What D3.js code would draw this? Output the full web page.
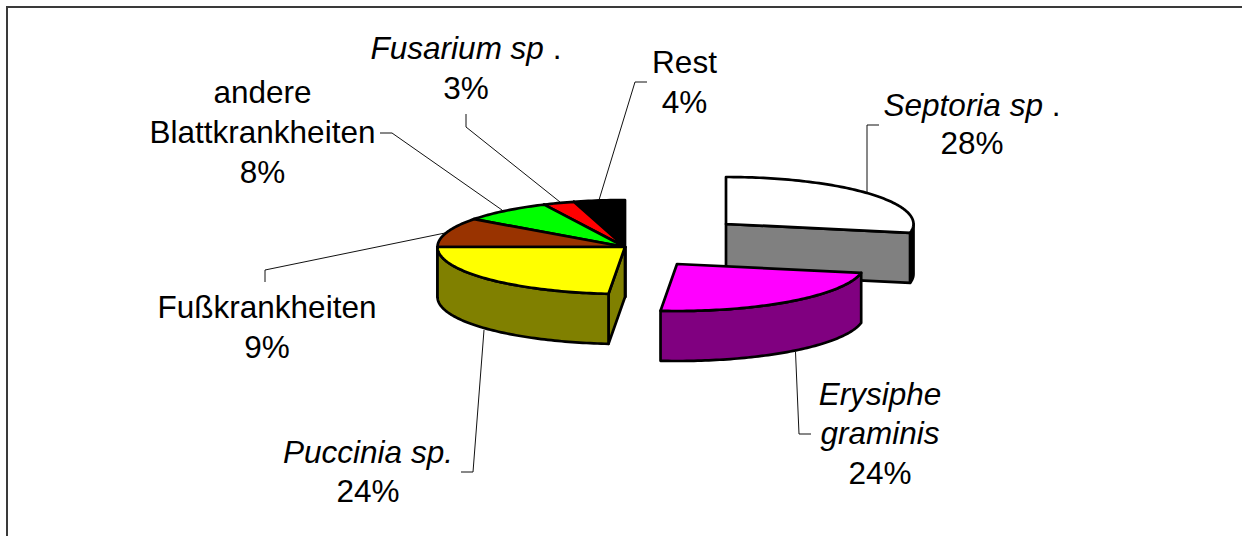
<!DOCTYPE html>
<html>
<head>
<meta charset="utf-8">
<script src="https://cdnjs.cloudflare.com/ajax/libs/d3/7.8.5/d3.min.js"></script>
<style>
  html, body { margin: 0; padding: 0; background: #fff; overflow: hidden; }
  text { font-family: "Liberation Sans", Arial, sans-serif; fill: #000; }
</style>
</head>
<body>
<div id="chart"></div>
<script>
// values, labels as printed on the chart
var categories = ["Septoria sp.", "Erysiphe graminis", "Puccinia sp.", "Fußkrankheiten", "andere Blattkrankheiten", "Fusarium sp.", "Rest"];
var shares = [28, 23.4, 23.6, 10.1, 7.8, 2.7, 4.4];
var percentLabels = ["28%", "24%", "24%", "9%", "8%", "3%", "4%"];

var width = 1242, height = 536;

var topColors = ["#ffffff", "#ff00ff", "#ffff00", "#993300", "#00ff00", "#ff0000", "#000000"];
var sideColors = ["#808080", "#800080", "#808000", "#4d1a00", "#008000", "#800000", "#000000"];
var rimColors = ["#000000", "#800080", "#808000", "#4d1a00", "#008000", "#800000", "#000000"];

var palette = { frame: "#3a3a3a", leader: "#111111" };

var center = { x: 625, y: 247 };
var rx = 187.5, ry = 47, depth = 50;
// explosion offset of each slice from the pie centre
var explode = [[101, -23], [52, 17], [0, 0], [0, 0], [0, 0], [0, 0], [0, 0]];
var drawOrder = [0, 1, 6, 5, 4, 3, 2];

var labelLines = [
  [[{ t: "Septoria sp", i: true }, { t: " ." }], [{ t: percentLabels[0] }]],
  [[{ t: "Erysiphe", i: true }], [{ t: "graminis", i: true }], [{ t: percentLabels[1] }]],
  [[{ t: "Puccinia sp.", i: true }], [{ t: percentLabels[2] }]],
  [[{ t: "Fußkrankheiten" }], [{ t: percentLabels[3] }]],
  [[{ t: "andere" }], [{ t: "Blattkrankheiten" }], [{ t: percentLabels[4] }]],
  [[{ t: "Fusarium sp", i: true }, { t: " ." }], [{ t: percentLabels[5] }]],
  [[{ t: "Rest" }], [{ t: percentLabels[6] }]]
];
var labelPos = [[972, 115.5], [880, 404.5], [368, 462.5], [267, 317.5], [262.5, 102.5], [466, 58.5], [684.5, 72.5]];
var lineGap = [38.5, 39.5, 39.5, 40, 40, 40, 40];

var leaders = [
  [[867, 192], [867, 125], [879, 125]],
  [[795.5, 352], [799, 434], [811, 434]],
  [[484, 330], [473, 472], [461, 472]],
  [[445, 233], [265, 270], [265, 282]],
  [[502, 210], [392, 133], [380, 133]],
  [[560, 202], [466, 127], [466, 114]],
  [[599, 200], [635, 82], [647, 82]]
];

var svg = d3.select("#chart").append("svg")
  .attr("width", width).attr("height", height);

// frame: only top and left edge are inside the picture
svg.append("path")
  .attr("d", "M7," + height + "V7H" + width)
  .attr("fill", "none")
  .attr("stroke", palette.frame)
  .attr("stroke-width", 2);

var pie = d3.pie().sort(null).value(function(d) { return d; });
var arcs = pie(shares);

var line = d3.line();

function pt(c, a, r) {
  // a is clockwise from 12 o'clock, flattened to the pie's tilt
  return [c.x + r * rx * Math.sin(a), c.y - r * ry * Math.cos(a)];
}

function arcPoints(c, a0, a1) {
  var n = Math.max(2, Math.ceil((a1 - a0) / 0.02));
  return d3.range(n + 1).map(function(k) {
    return pt(c, a0 + (a1 - a0) * k / n, 1);
  });
}

function down(p) { return [p[0], p[1] + depth]; }

var slices = svg.append("g");

drawOrder.forEach(function(i) {
  var d = arcs[i];
  var c = { x: center.x + explode[i][0], y: center.y + explode[i][1] };
  var g = slices.append("g").attr("class", "slice").attr("data-name", categories[i]);

  function face(points, fill) {
    g.append("path")
      .attr("d", line(points) + "Z")
      .attr("fill", fill)
      .attr("stroke", "#000")
      .attr("stroke-width", 2.7)
      .attr("stroke-linejoin", "round");
  }

  function radialWall(a) {
    var apex = [c.x, c.y], rim = pt(c, a, 1);
    face([apex, rim, down(rim), down(apex)], sideColors[i]);
  }

  // cut faces only show when they look towards the viewer
  if (Math.sin(d.startAngle) < -1e-6) radialWall(d.startAngle);
  if (Math.sin(d.endAngle) > 1e-6) radialWall(d.endAngle);

  // outer wall, front half of the rim only
  var a0 = Math.max(d.startAngle, Math.PI / 2), a1 = Math.min(d.endAngle, Math.PI * 1.5);
  if (a1 > a0) {
    var rim = arcPoints(c, a0, a1);
    face(rim.concat(rim.slice().reverse().map(down)), rimColors[i]);
  }

  face([[c.x, c.y]].concat(arcPoints(c, d.startAngle, d.endAngle)), topColors[i]);
});

svg.append("g").selectAll("path")
  .data(leaders)
  .enter().append("path")
  .attr("d", function(d) { return line(d); })
  .attr("fill", "none")
  .attr("stroke", palette.leader)
  .attr("stroke-width", 1);

var labels = svg.append("g").selectAll("text")
  .data(labelLines)
  .enter().append("text")
  .attr("text-anchor", "middle")
  .attr("font-size", 31.5);

labels.each(function(lines, i) {
  var el = d3.select(this);
  lines.forEach(function(parts, k) {
    var row = el.append("tspan")
      .attr("x", labelPos[i][0])
      .attr("y", labelPos[i][1] + k * lineGap[i]);
    parts.forEach(function(p) {
      row.append("tspan")
        .attr("font-style", p.i ? "italic" : "normal")
        .attr("xml:space", "preserve")
        .style("white-space", "pre")
        .text(p.t);
    });
  });
});
</script>
</body>
</html>
